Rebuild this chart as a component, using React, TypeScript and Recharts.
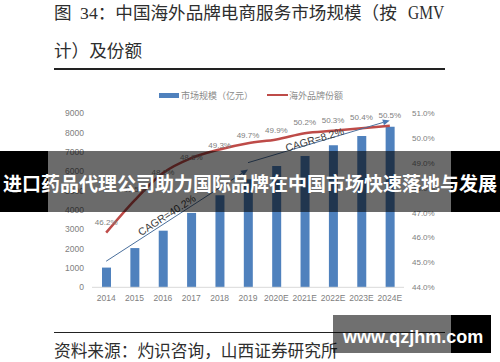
import React from 'react';
import {
  ComposedChart,
  Bar,
  Line,
  XAxis,
  YAxis,
  Legend,
  ReferenceLine,
  LabelList,
} from 'recharts';

// ---------- data ----------
const years = ['2014', '2015', '2016', '2017', '2018', '2019', '2020E', '2021E', '2022E', '2023E', '2024E'];
const marketSize = [1020, 2030, 2930, 3850, 4770, 5590, 6280, 6800, 7350, 7830, 8310];
const shareLabels = [46.2, 47.5, 48.2, 48.8, 49.3, 49.7, 49.9, 50.2, 50.3, 50.4, 50.5];
const shareCurve = [46.2, 47.5, 48.6, 49.2, 49.55, 49.8, 49.95, 50.2, 50.3, 50.4, 50.5];
const leftTicks = [0, 1000, 2000, 3000, 4000, 5000, 6000, 7000, 8000, 9000];
const rightTicks = [44, 45, 46, 47, 48, 49, 50, 51];
const cagr1 = { label: 'CAGR=40.2%', from: { x: '2014', y: 1350 }, to: { x: '2019', y: 6100 } };
const cagr2 = { label: 'CAGR=8.2%', from: { x: '2019', y: 6450 }, to: { x: '2024E', y: 8635 } };

const titleParts = ['图', '34', '：中国海外品牌电商服务市场规模（按', 'GMV'];
const titleLine2 = '计）及份额';
const sourceText = '资料来源：灼识咨询，山西证券研究所';
const bannerText = '进口药品代理公司助力国际品牌在中国市场快速落地与发展';
const watermarkText = 'www.qzjhm.com';
const legendBar = '市场规模（亿元）';
const legendLine = '海外品牌份额';

const data = years.map((y, i) => ({
  year: y,
  size: marketSize[i],
  share: shareLabels[i],
  curve: shareCurve[i],
}));

const BAR = '#4f81bd';
const RED = '#be4b48';
const TICK = '#808080';
const CJK = "'Liberation Serif', 'Noto Sans CJK SC', serif";

const makeArrow = (label: string, frac: number, off: number) => (props: any) => {
  const { x1, y1, x2, y2 } = props;
  if ([x1, y1, x2, y2].some((v) => typeof v !== 'number' || isNaN(v))) return <g />;
  const dx = x2 - x1;
  const dy = y2 - y1;
  const len = Math.hypot(dx, dy);
  const ux = dx / len;
  const uy = dy / len;
  const head = 7;
  const hw = 3;
  const bx = x2 - ux * head;
  const by = y2 - uy * head;
  const nx = uy;
  const ny = -ux;
  const angle = (Math.atan2(dy, dx) * 180) / Math.PI;
  const tx = x1 + dx * frac + nx * off;
  const ty = y1 + dy * frac + ny * off;
  return (
    <g>
      <line x1={x1} y1={y1} x2={bx} y2={by} stroke="#4a6f9c" strokeWidth={1} />
      <polygon
        points={`${x2},${y2} ${bx - uy * hw},${by + ux * hw} ${bx + uy * hw},${by - ux * hw}`}
        fill="#4a78b4"
      />
      <text
        x={tx}
        y={ty}
        transform={`rotate(${angle}, ${tx}, ${ty})`}
        textAnchor="middle"
        dominantBaseline="central"
        fontSize={10.5}
        fontFamily="'Liberation Sans', Arial, sans-serif"
        fill="#3a3a3a"
      >
        {label}
      </text>
    </g>
  );
};

const LegendContent = () => (
  <div
    style={{
      display: 'flex',
      alignItems: 'center',
      paddingLeft: 159,
      height: 12,
      fontSize: 9,
      color: '#8a8a8a',
      fontFamily: "'Noto Sans CJK SC', sans-serif",
      whiteSpace: 'nowrap',
    }}
  >
    <span style={{ display: 'inline-block', width: 20, height: 5, background: BAR }} />
    <span style={{ marginLeft: 2 }}>{legendBar}</span>
    <span style={{ display: 'inline-block', width: 21, height: 2.5, background: RED, marginLeft: 14 }} />
    <span style={{ marginLeft: 1 }}>{legendLine}</span>
  </div>
);

const titleStyle: React.CSSProperties = {
  position: 'absolute',
  left: 54,
  fontSize: 17.6,
  lineHeight: '22px',
  color: '#2e2e2e',
  fontFamily: CJK,
  whiteSpace: 'nowrap',
};

export default function App() {
  return (
    <div
      style={{
        position: 'absolute',
        left: 0,
        top: 0,
        width: 500,
        height: 362,
        background: '#fff',
        overflow: 'hidden',
      }}
    >
      {/* title */}
      <div style={{ ...titleStyle, top: 2 }}>
        <span>{titleParts[0]}</span>
        <span style={{ marginLeft: 8.5 }}>{titleParts[1]}</span>
        <span>{titleParts[2]}</span>
        <span
          style={{
            display: 'inline-block',
            marginLeft: 11,
            fontSize: 18,
            transform: 'scaleX(0.86)',
            transformOrigin: 'left center',
          }}
        >
          {titleParts[3]}
        </span>
      </div>
      <div style={{ ...titleStyle, top: 40 }}>{titleLine2}</div>
      <div style={{ position: 'absolute', left: 54, top: 68, width: 391, height: 1.5, background: '#222' }} />

      {/* chart */}
      <div style={{ position: 'absolute', left: 0, top: 80 }}>
        <ComposedChart
          width={500}
          height={230}
          data={data}
          margin={{ top: 33.4, right: 36, bottom: 2.7, left: 42 }}
          barCategoryGap={0}
        >
          <XAxis
            dataKey="year"
            height={20}
            tickLine={false}
            axisLine={{ stroke: '#d9d9d9' }}
            tick={{ fill: TICK, fontSize: 8.5, fontFamily: "'Liberation Sans', Arial, sans-serif" }}
            interval={0}
          />
          <YAxis
            yAxisId="left"
            width={50}
            domain={[0, 9000]}
            ticks={leftTicks}
            interval={0}
            axisLine={false}
            tickLine={false}
            tick={{ fill: TICK, fontSize: 8.5, fontFamily: "'Liberation Sans', Arial, sans-serif" }}
          />
          <YAxis
            yAxisId="right"
            orientation="right"
            width={60}
            domain={[44, 51]}
            ticks={rightTicks}
            interval={0}
            axisLine={false}
            tickLine={false}
            tickFormatter={(v: number) => `${v.toFixed(1)}%`}
            tick={{ fill: TICK, fontSize: 8, fontFamily: "'Liberation Sans', Arial, sans-serif" }}
          />
          <Legend
            verticalAlign="middle"
            layout="horizontal"
            content={<LegendContent />}
            wrapperStyle={{ position: 'absolute', top: 9, left: 0, width: 500, height: 12 }}
          />
          <Bar yAxisId="left" dataKey="size" fill={BAR} barSize={9} isAnimationActive={false} />
          <Line
            yAxisId="right"
            dataKey="curve"
            type="monotone"
            stroke={RED}
            strokeWidth={2.5}
            dot={false}
            activeDot={false}
            isAnimationActive={false}
          />
          <Line
            yAxisId="right"
            dataKey="share"
            stroke="none"
            dot={false}
            activeDot={false}
            legendType="none"
            isAnimationActive={false}
          >
            <LabelList
              dataKey="share"
              position="top"
              offset={8}
              formatter={(v: any) => `${Number(v).toFixed(1)}%`}
              style={{ fill: TICK, fontSize: 8, fontFamily: "'Liberation Sans', Arial, sans-serif" }}
            />
          </Line>
          <ReferenceLine
            yAxisId="left"
            segment={[cagr1.from, cagr1.to]}
            ifOverflow="visible"
            shape={makeArrow(cagr1.label, 0.45, 6)}
          />
          <ReferenceLine
            yAxisId="left"
            segment={[cagr2.from, cagr2.to]}
            ifOverflow="visible"
            shape={makeArrow(cagr2.label, 0.476, 3.5)}
          />
        </ComposedChart>
      </div>

      {/* source */}
      <div style={{ position: 'absolute', left: 54, top: 331.5, width: 391, height: 1.5, background: '#222' }} />
      <div
        style={{
          position: 'absolute',
          left: 54,
          top: 341,
          fontSize: 16.7,
          lineHeight: '22px',
          color: '#2e2e2e',
          fontFamily: CJK,
          whiteSpace: 'nowrap',
        }}
      >
        {sourceText}
      </div>

      {/* banner overlay */}
      <div style={{ position: 'absolute', left: 0, top: 151, width: 48, height: 61, background: '#000' }} />
      <div style={{ position: 'absolute', left: 48, top: 151, width: 403, height: 61, background: 'rgba(0,0,0,0.58)' }} />
      <div style={{ position: 'absolute', left: 451, top: 151, width: 49, height: 61, background: '#000' }} />
      <div
        style={{
          position: 'absolute',
          left: 0,
          top: 151,
          width: 500,
          height: 61,
          display: 'flex',
          alignItems: 'center',
          justifyContent: 'center',
          color: '#fff',
          fontWeight: 700,
          fontSize: 19,
          fontFamily: "'Noto Sans CJK SC', sans-serif",
          whiteSpace: 'nowrap',
          paddingTop: 2,
          boxSizing: 'border-box',
        }}
      >
        {bannerText}
      </div>

      {/* watermark overlay */}
      <div style={{ position: 'absolute', left: 333, top: 315, width: 118, height: 38, background: 'rgba(0,0,0,0.56)' }} />
      <div style={{ position: 'absolute', left: 451, top: 315, width: 40, height: 38, background: '#000' }} />
      <div
        style={{
          position: 'absolute',
          left: 343,
          top: 315,
          height: 44,
          display: 'flex',
          alignItems: 'center',
          color: '#fff',
          fontWeight: 700,
          fontSize: 18,
          fontFamily: "'Liberation Sans', Arial, sans-serif",
          whiteSpace: 'nowrap',
        }}
      >
        {watermarkText}
      </div>
    </div>
  );
}
